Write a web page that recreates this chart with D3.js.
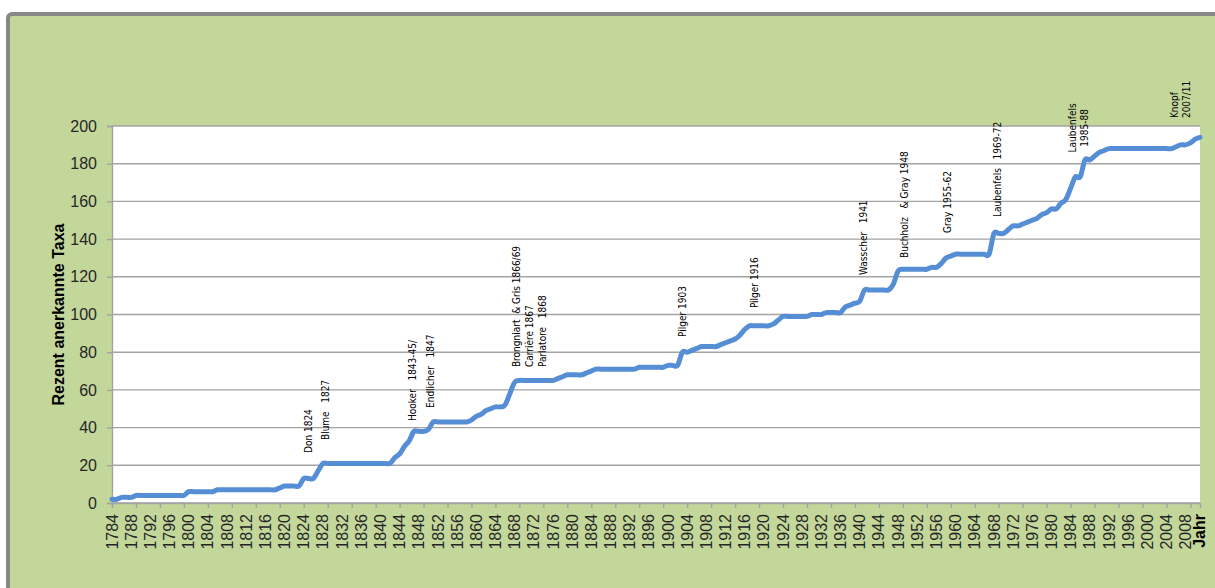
<!DOCTYPE html>
<html>
<head>
<meta charset="utf-8">
<script src="https://cdn.jsdelivr.net/npm/d3@7/dist/d3.min.js"></script>
<style>
	body { margin: 0; background: #ffffff; }
	svg { display: block; }
	.ticklabel { font-family: "Liberation Sans", Arial, sans-serif; font-size: 16px; fill: #262626; }
	.title { font-family: "Liberation Sans", Arial, sans-serif; font-size: 16px; font-weight: bold; fill: #000; }
	.note { font-family: "Liberation Sans Narrow", "DejaVu Sans Condensed", sans-serif; font-size: 10px; fill: #000; white-space: pre; }
</style>
</head>
<body>
<svg id="chart" width="1215" height="588"></svg>
<script>
// first year of the series, one value per year after that
var startYear = 1784;
var taxa = [
	2, 2, 3, 3, 3, 4,
	4, 4, 4, 4, 4, 4, 4, 4, 4, 4,
	6, 6, 6, 6, 6, 6, 7, 7, 7, 7,
	7, 7, 7, 7, 7, 7, 7, 7, 7, 8,
	9, 9, 9, 9, 13, 13, 13, 17, 21, 21,
	21, 21, 21, 21, 21, 21, 21, 21, 21, 21,
	21, 21, 21, 24, 26, 30, 33, 38, 38, 38,
	39, 43, 43, 43, 43, 43, 43, 43, 43, 44,
	46, 47, 49, 50, 51, 51, 52, 58, 64, 65,
	65, 65, 65, 65, 65, 65, 65, 66, 67, 68,
	68, 68, 68, 69, 70, 71, 71, 71, 71, 71,
	71, 71, 71, 71, 72, 72, 72, 72, 72, 72,
	73, 73, 73, 80, 80, 81, 82, 83, 83, 83,
	83, 84, 85, 86, 87, 89, 92, 94, 94, 94,
	94, 94, 95, 97, 99, 99, 99, 99, 99, 99,
	100, 100, 100, 101, 101, 101, 101, 104, 105, 106,
	107, 113, 113, 113, 113, 113, 113, 116, 123, 124,
	124, 124, 124, 124, 124, 125, 125, 127, 130, 131,
	132, 132, 132, 132, 132, 132, 132, 132, 143, 143,
	143, 145, 147, 147, 148, 149, 150, 151, 153, 154,
	156, 156, 159, 161, 167, 173, 173, 182, 182, 184,
	186, 187, 188, 188, 188, 188, 188, 188, 188, 188,
	188, 188, 188, 188, 188, 188, 189, 190, 190, 191,
	193, 194
];

var yTicks = [0, 20, 40, 60, 80, 100, 120, 140, 160, 180, 200];
var labelEvery = 4;   // year labels
var tickEvery = 5;    // tick marks (excel keeps them apart)

// authors written above the curve: text lines, year and height they sit at
var noteLines = [
	["Don 1824"],
	["Blume   1827"],
	["Hooker   1843-45/"],
	["Endlicher   1847"],
	["Brongniart  & Gris 1866/69"],
	["Carrière 1867"],
	["Parlatore   1868"],
	["Pilger 1903"],
	["Pilger 1916"],
	["Wasscher   1941"],
	["Buchholz   & Gray 1948"],
	["Gray 1955-62"],
	["Laubenfels   1969-72"],
	["Laubenfels", "1985-88"],
	["Knopf", "2007/11"]
];
var noteYears = [1825.1, 1828.6, 1846.6, 1850.5, 1868.4, 1871.2, 1873.9, 1903.1, 1918.1, 1940.8, 1949.3, 1958.3, 1968.7, 1985.6, 2007.0];
var noteValues = [26.5, 33.4, 43.5, 50.4, 72.1, 72.1, 72.1, 88.1, 103.4, 121, 130, 143.2, 151.7, 199, 204.2];
var noteCentered = [false, false, false, false, false, false, false, false, false, false, false, false, false, true, false];

var svg = d3.select("#chart");
var plot = { left: 112, right: 1200, top: 126, bottom: 503 };

var data = taxa.map(function(v, i) {
	return { year: startYear + i, value: v };
});
var lastYear = data[data.length - 1].year;

var x = d3.scaleLinear()
	.domain([startYear, lastYear])
	.range([plot.left, plot.right]);

var y = d3.scaleLinear()
	.domain([0, 200])
	.range([plot.bottom, plot.top]);

// --------------------------------------------
// frame and plot area
// --------------------------------------------
svg.append("rect")
	.attr("x", 8)
	.attr("y", 14)
	.attr("width", 1260)
	.attr("height", 640)
	.attr("rx", 4)
	.style("fill", "#c4d79b")
	.style("stroke", "#878787")
	.style("stroke-width", 4);

svg.append("rect")
	.attr("x", plot.left)
	.attr("y", plot.top)
	.attr("width", plot.right - plot.left)
	.attr("height", plot.bottom - plot.top)
	.style("fill", "#ffffff");

// gridlines
svg.append("g")
	.selectAll("line")
	.data(yTicks)
	.enter()
	.append("line")
	.attr("x1", plot.left)
	.attr("x2", plot.right)
	.attr("y1", d => y(d))
	.attr("y2", d => y(d))
	.style("stroke", "#a3a3a3")
	.style("stroke-width", 1.4);

// --------------------------------------------
// axes
// --------------------------------------------
var yAxis = svg.append("g")
	.attr("transform", "translate(" + plot.left + ",0)")
	.call(d3.axisLeft(y).tickValues(yTicks).tickSize(5).tickPadding(10));

yAxis.select(".domain").style("stroke", "#a3a3a3").style("stroke-width", 1.4);
yAxis.selectAll(".tick line").style("stroke", "#a3a3a3").style("stroke-width", 1.4);
yAxis.selectAll(".tick text")
	.attr("class", "ticklabel")
	.attr("font-family", null)
	.attr("font-size", null)
	.attr("fill", null);

var allYears = data.map(d => d.year);
var tickYears = allYears.filter(yr => (yr - startYear) % tickEvery == 0);
var labelYears = allYears.filter(yr => (yr - startYear) % labelEvery == 0);

var xTicks = svg.append("g")
	.attr("transform", "translate(0," + plot.bottom + ")")
	.call(d3.axisBottom(x).tickValues(tickYears).tickSize(5).tickFormat(""));

xTicks.select(".domain").style("stroke", "#a3a3a3").style("stroke-width", 1.4);
xTicks.selectAll(".tick line").style("stroke", "#a3a3a3").style("stroke-width", 1.4);

svg.append("g")
	.selectAll("text")
	.data(labelYears)
	.enter()
	.append("text")
	.attr("class", "ticklabel")
	.attr("transform", d => "translate(" + x(d) + "," + (plot.bottom + 11) + ") rotate(-90)")
	.attr("dy", "0.35em")
	.attr("text-anchor", "end")
	.text(d => d);

svg.append("text")
	.attr("class", "title")
	.attr("transform", "translate(" + (plot.right - 1) + "," + (plot.bottom + 11) + ") rotate(-90)")
	.attr("dy", "0.35em")
	.attr("text-anchor", "end")
	.text("Jahr");

svg.append("text")
	.attr("class", "title")
	.attr("transform", "translate(58," + (plot.top + plot.bottom) / 2 + ") rotate(-90)")
	.attr("dy", "0.35em")
	.attr("text-anchor", "middle")
	.text("Rezent anerkannte Taxa");

// --------------------------------------------
// curve (excel smoothed line)
// --------------------------------------------
var line = d3.line()
	.x(d => x(d.year))
	.y(d => y(d.value))
	.curve(d3.curveCatmullRom.alpha(0));

svg.append("path")
	.datum(data)
	.attr("d", line)
	.style("fill", "none")
	.style("stroke", "#558ed5")
	.style("stroke-width", 5)
	.style("stroke-linejoin", "round")
	.style("stroke-linecap", "round");

// --------------------------------------------
// author notes
// --------------------------------------------
var notes = svg.append("g")
	.selectAll("text")
	.data(noteLines)
	.enter()
	.append("text")
	.attr("class", "note")
	.attr("transform", (d, i) => "translate(" + x(noteYears[i]) + "," + y(noteValues[i]) + ") rotate(-90)")
	.attr("text-anchor", (d, i) => noteCentered[i] ? "middle" : "start");

notes.each(function(lines) {
	var shift = -(lines.length - 1) / 2 * 1.2;
	d3.select(this).selectAll("tspan")
		.data(lines)
		.enter()
		.append("tspan")
		.attr("x", 0)
		.attr("dy", (d, j) => j == 0 ? (shift + 0.35) + "em" : "1.2em")
		.text(d => d);
});
</script>
</body>
</html>
